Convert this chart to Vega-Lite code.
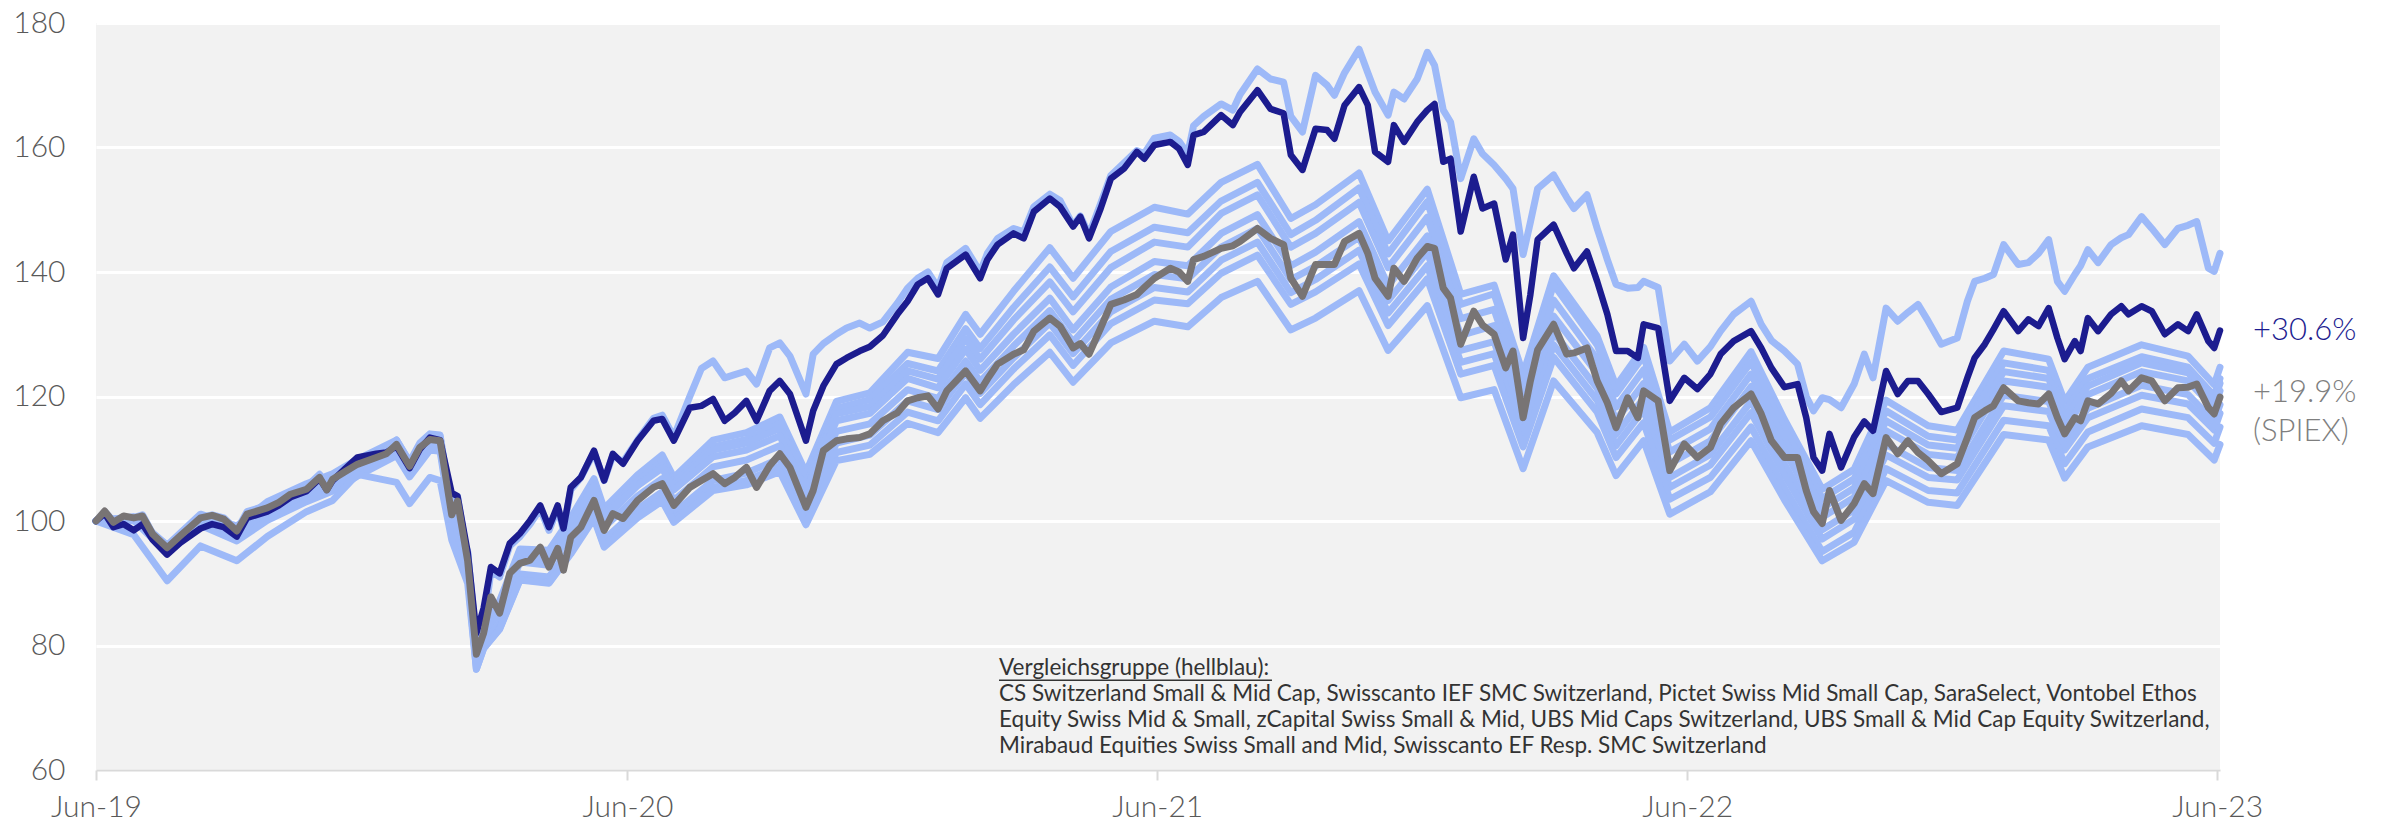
{
"$schema": "https://vega.github.io/schema/vega-lite/v6.json",
"width": 2124,
"height": 747,
"autosize": {"type": "none"},
"padding": {"left": 96, "top": 23, "right": 172, "bottom": 58},
"background": "white",
"datasets": {
"main": [
{"d":"2019-06-30","f":100,"s":100,"t":100},
{"d":"2019-07-06","f":101.2,"s":101.6,"t":101.5},
{"d":"2019-07-12","f":99,"s":99.8,"t":100},
{"d":"2019-07-19","f":99.5,"s":100.8,"t":100.5},
{"d":"2019-07-26","f":98.5,"s":100.5,"t":100.5},
{"d":"2019-08-01","f":99.5,"s":100.8,"t":101},
{"d":"2019-08-08","f":97,"s":97.9,"t":98},
{"d":"2019-08-18","f":94.6,"s":95.7,"t":96},
{"d":"2019-08-27","f":96.5,"s":97.6,"t":97.5},
{"d":"2019-09-10","f":98.8,"s":100.5,"t":100.5},
{"d":"2019-09-18","f":99.5,"s":100.9,"t":101},
{"d":"2019-09-26","f":99,"s":100.3,"t":100.5},
{"d":"2019-10-05","f":97.5,"s":98.4,"t":98.5},
{"d":"2019-10-12","f":100.5,"s":101.1,"t":101.5},
{"d":"2019-10-26","f":101.5,"s":102.1,"t":102.5},
{"d":"2019-11-03","f":102.5,"s":103,"t":103.5},
{"d":"2019-11-11","f":103.8,"s":104.3,"t":104.5},
{"d":"2019-11-22","f":104.8,"s":105.1,"t":105.5},
{"d":"2019-12-01","f":106.8,"s":107,"t":107.5},
{"d":"2019-12-06","f":105,"s":105,"t":105.5},
{"d":"2019-12-10","f":106.5,"s":106.7,"t":107},
{"d":"2019-12-19","f":108.5,"s":108,"t":108.5},
{"d":"2019-12-27","f":110.2,"s":109.1,"t":110},
{"d":"2020-01-09","f":110.8,"s":110.2,"t":111},
{"d":"2020-01-16","f":111,"s":110.8,"t":111.5},
{"d":"2020-01-23","f":112,"s":112.3,"t":113},
{"d":"2020-02-01","f":108.5,"s":108.8,"t":109.5},
{"d":"2020-02-08","f":111.5,"s":111.8,"t":112.5},
{"d":"2020-02-15","f":113.4,"s":113.1,"t":114},
{"d":"2020-02-22","f":113,"s":112.9,"t":113.8},
{"d":"2020-03-01","f":104.5,"s":101,"t":102},
{"d":"2020-03-05","f":104,"s":103.2,"t":104},
{"d":"2020-03-12","f":95,"s":93.6,"t":94},
{"d":"2020-03-18","f":82,"s":78.6,"t":79},
{"d":"2020-03-23","f":86,"s":82,"t":83},
{"d":"2020-03-28","f":92.6,"s":87.8,"t":92},
{"d":"2020-04-03","f":91.6,"s":85.2,"t":91},
{"d":"2020-04-10","f":96.4,"s":91.6,"t":96},
{"d":"2020-04-17","f":98,"s":93.2,"t":97.5},
{"d":"2020-04-24","f":100.1,"s":93.7,"t":99.5},
{"d":"2020-05-01","f":102.5,"s":95.8,"t":102},
{"d":"2020-05-07","f":99,"s":92.6,"t":98.5},
{"d":"2020-05-13","f":102.5,"s":95.6,"t":102},
{"d":"2020-05-17","f":98.8,"s":92.1,"t":98.5},
{"d":"2020-05-22","f":105.4,"s":97.4,"t":105},
{"d":"2020-05-29","f":107,"s":99,"t":107},
{"d":"2020-06-07","f":111.3,"s":103.3,"t":111},
{"d":"2020-06-14","f":106.5,"s":98.5,"t":106.5},
{"d":"2020-06-20","f":110.8,"s":101.2,"t":110.5},
{"d":"2020-06-27","f":109.2,"s":100.4,"t":109.5},
{"d":"2020-07-07","f":112.9,"s":103.3,"t":113},
{"d":"2020-07-18","f":116.1,"s":105.4,"t":116.5},
{"d":"2020-07-24","f":116.4,"s":106,"t":117},
{"d":"2020-08-01","f":112.9,"s":102.5,"t":113.5},
{"d":"2020-08-12","f":118.2,"s":105.4,"t":120},
{"d":"2020-08-20","f":118.5,"s":106.5,"t":124.5},
{"d":"2020-08-28","f":119.6,"s":107.6,"t":125.7},
{"d":"2020-09-05","f":116.1,"s":106,"t":123},
{"d":"2020-09-12","f":117.4,"s":107,"t":123.5},
{"d":"2020-09-20","f":119.3,"s":108.6,"t":124.1},
{"d":"2020-09-27","f":116.1,"s":105.4,"t":122},
{"d":"2020-10-06","f":120.9,"s":108.9,"t":127.8},
{"d":"2020-10-13","f":122.5,"s":110.8,"t":128.6},
{"d":"2020-10-20","f":120.4,"s":108.6,"t":126.5},
{"d":"2020-10-31","f":112.9,"s":102.2,"t":120.4},
{"d":"2020-11-05","f":117.7,"s":104.9,"t":126.8},
{"d":"2020-11-12","f":121.7,"s":111.3,"t":128.5},
{"d":"2020-11-21","f":125.2,"s":112.9,"t":130},
{"d":"2020-11-28","f":126.2,"s":113.2,"t":131},
{"d":"2020-12-07","f":127.3,"s":113.4,"t":131.8},
{"d":"2020-12-14","f":128,"s":114,"t":131},
{"d":"2020-12-23","f":129.8,"s":116.1,"t":132},
{"d":"2021-01-02","f":133.2,"s":117.4,"t":135},
{"d":"2021-01-09","f":135.3,"s":119.3,"t":137.4},
{"d":"2021-01-16","f":138,"s":119.8,"t":139},
{"d":"2021-01-23","f":139,"s":120.1,"t":140},
{"d":"2021-01-30","f":136.4,"s":118,"t":137.5},
{"d":"2021-02-05","f":140.6,"s":120.9,"t":141.5},
{"d":"2021-02-18","f":142.8,"s":124.1,"t":143.8},
{"d":"2021-02-28","f":139,"s":120.9,"t":140},
{"d":"2021-03-05","f":142,"s":122.8,"t":143},
{"d":"2021-03-12","f":144.4,"s":125.2,"t":145.4},
{"d":"2021-03-23","f":146.2,"s":126.8,"t":147},
{"d":"2021-03-30","f":145.4,"s":127.5,"t":146.4},
{"d":"2021-04-06","f":149.7,"s":130.5,"t":150.5},
{"d":"2021-04-17","f":151.8,"s":132.6,"t":152.5},
{"d":"2021-04-24","f":150.5,"s":131.3,"t":151.5},
{"d":"2021-05-03","f":147.3,"s":127.8,"t":147.5},
{"d":"2021-05-08","f":148.9,"s":128.5,"t":149},
{"d":"2021-05-14","f":145.4,"s":126.8,"t":146},
{"d":"2021-05-22","f":150.2,"s":131,"t":151},
{"d":"2021-05-29","f":155,"s":134.8,"t":155.5},
{"d":"2021-06-07","f":156.6,"s":135.5,"t":157.5},
{"d":"2021-06-16","f":159.3,"s":136.4,"t":159.5},
{"d":"2021-06-21","f":158.2,"s":137.5,"t":159},
{"d":"2021-06-28","f":160.4,"s":139,"t":161.5},
{"d":"2021-07-09","f":160.9,"s":140.6,"t":162},
{"d":"2021-07-15","f":159.8,"s":140,"t":161},
{"d":"2021-07-21","f":157.2,"s":138.5,"t":159},
{"d":"2021-07-25","f":162,"s":142,"t":163.5},
{"d":"2021-08-01","f":162.5,"s":142.5,"t":165},
{"d":"2021-08-13","f":165.2,"s":143.8,"t":167},
{"d":"2021-08-21","f":163.6,"s":144.2,"t":166},
{"d":"2021-08-26","f":165.7,"s":144.9,"t":168.5},
{"d":"2021-09-07","f":169.2,"s":147,"t":172.6},
{"d":"2021-09-16","f":166.2,"s":145.4,"t":171},
{"d":"2021-09-25","f":165.5,"s":144.4,"t":170.5},
{"d":"2021-09-30","f":158.8,"s":139,"t":165},
{"d":"2021-10-08","f":156.4,"s":136.1,"t":162.5},
{"d":"2021-10-17","f":163,"s":141.2,"t":171.6},
{"d":"2021-10-25","f":162.8,"s":141.2,"t":170},
{"d":"2021-10-30","f":161.4,"s":141.2,"t":168.4},
{"d":"2021-11-06","f":166.8,"s":144.9,"t":172},
{"d":"2021-11-16","f":169.7,"s":146.2,"t":175.8},
{"d":"2021-11-22","f":166.8,"s":143,"t":172},
{"d":"2021-11-27","f":159.3,"s":139,"t":168.9},
{"d":"2021-12-06","f":157.7,"s":136.1,"t":165.2},
{"d":"2021-12-10","f":163.6,"s":140.6,"t":168.9},
{"d":"2021-12-17","f":160.9,"s":138.5,"t":167.8},
{"d":"2021-12-26","f":164.1,"s":142.2,"t":171},
{"d":"2022-01-02","f":166,"s":144.1,"t":175.3},
{"d":"2022-01-07","f":167,"s":143.8,"t":173.2},
{"d":"2022-01-13","f":157.7,"s":137.4,"t":166},
{"d":"2022-01-18","f":158.2,"s":135.8,"t":164.1},
{"d":"2022-01-25","f":146.5,"s":128.4,"t":155},
{"d":"2022-02-03","f":155.3,"s":133.7,"t":161.4},
{"d":"2022-02-09","f":150.2,"s":131.5,"t":159},
{"d":"2022-02-17","f":151,"s":130,"t":157.2},
{"d":"2022-02-25","f":142,"s":124.6,"t":155},
{"d":"2022-03-02","f":146,"s":127.3,"t":153.4},
{"d":"2022-03-09","f":129.4,"s":116.6,"t":142.8},
{"d":"2022-03-14","f":136.4,"s":122.5,"t":148},
{"d":"2022-03-19","f":145.2,"s":127.5,"t":153.4},
{"d":"2022-03-30","f":147.6,"s":131.6,"t":155.6},
{"d":"2022-04-08","f":143,"s":126.8,"t":152},
{"d":"2022-04-13","f":140.6,"s":127,"t":150.2},
{"d":"2022-04-22","f":143.3,"s":127.8,"t":152.4},
{"d":"2022-04-29","f":138.5,"s":122.5,"t":147},
{"d":"2022-05-06","f":133.2,"s":119,"t":142},
{"d":"2022-05-12","f":127.3,"s":115,"t":138},
{"d":"2022-05-20","f":127.3,"s":119.8,"t":137.4},
{"d":"2022-05-27","f":126.2,"s":116.6,"t":137.5},
{"d":"2022-05-31","f":131.6,"s":120.9,"t":138.5},
{"d":"2022-06-10","f":131,"s":119.3,"t":137.5},
{"d":"2022-06-18","f":119.3,"s":108.1,"t":125.7},
{"d":"2022-06-28","f":123,"s":112.4,"t":128.4},
{"d":"2022-07-07","f":121.2,"s":110.2,"t":125.7},
{"d":"2022-07-16","f":123.6,"s":111.8,"t":128},
{"d":"2022-07-23","f":126.8,"s":115.6,"t":130.5},
{"d":"2022-08-01","f":128.9,"s":118.2,"t":133.2},
{"d":"2022-08-13","f":130.5,"s":120.4,"t":135.3},
{"d":"2022-08-20","f":127.8,"s":117.2,"t":131.6},
{"d":"2022-08-27","f":124.6,"s":112.9,"t":129},
{"d":"2022-09-05","f":121.5,"s":110.2,"t":127.3},
{"d":"2022-09-14","f":122,"s":110.2,"t":125.2},
{"d":"2022-09-20","f":116.6,"s":104.9,"t":120},
{"d":"2022-09-25","f":110.2,"s":101.5,"t":117.7},
{"d":"2022-10-01","f":108.1,"s":99.6,"t":119.8},
{"d":"2022-10-06","f":114,"s":104.9,"t":119.5},
{"d":"2022-10-14","f":108.6,"s":100.1,"t":118.2},
{"d":"2022-10-23","f":113.5,"s":102.8,"t":122},
{"d":"2022-10-30","f":116,"s":106,"t":126.8},
{"d":"2022-11-05","f":114.5,"s":104.4,"t":123},
{"d":"2022-11-14","f":124.1,"s":113.4,"t":134.2},
{"d":"2022-11-22","f":120.4,"s":110.8,"t":132.1},
{"d":"2022-11-29","f":122.5,"s":112.9,"t":133.5},
{"d":"2022-12-06","f":122.5,"s":111,"t":134.8},
{"d":"2022-12-13","f":120.4,"s":109.7,"t":132.1},
{"d":"2022-12-22","f":117.5,"s":107.6,"t":128.4},
{"d":"2023-01-02","f":118.2,"s":109.2,"t":129.4},
{"d":"2023-01-09","f":123,"s":113.4,"t":135.3},
{"d":"2023-01-14","f":126.2,"s":116.6,"t":138.5},
{"d":"2023-01-21","f":128.4,"s":117.7,"t":139},
{"d":"2023-01-27","f":130.8,"s":118.5,"t":139.6},
{"d":"2023-02-03","f":133.7,"s":121.4,"t":144.4},
{"d":"2023-02-13","f":130.5,"s":119.3,"t":141.2},
{"d":"2023-02-20","f":132.4,"s":119,"t":141.5},
{"d":"2023-02-27","f":131.3,"s":118.8,"t":143},
{"d":"2023-03-06","f":134.2,"s":120.4,"t":145.2},
{"d":"2023-03-12","f":129.4,"s":116.6,"t":138.5},
{"d":"2023-03-17","f":126,"s":114,"t":136.9},
{"d":"2023-03-24","f":128.9,"s":116.6,"t":139.6},
{"d":"2023-03-28","f":127.3,"s":116.1,"t":141},
{"d":"2023-04-02","f":132.6,"s":119.3,"t":143.6},
{"d":"2023-04-09","f":130.5,"s":118.8,"t":141.5},
{"d":"2023-04-18","f":133.2,"s":120.5,"t":144.4},
{"d":"2023-04-25","f":134.5,"s":122.5,"t":145.5},
{"d":"2023-04-30","f":133.2,"s":120.9,"t":146},
{"d":"2023-05-09","f":134.5,"s":123,"t":148.9},
{"d":"2023-05-16","f":133.7,"s":122.5,"t":147},
{"d":"2023-05-25","f":130,"s":119.3,"t":144.4},
{"d":"2023-06-03","f":131.6,"s":121.4,"t":147},
{"d":"2023-06-10","f":130.5,"s":121.5,"t":147.5},
{"d":"2023-06-16","f":133.2,"s":122,"t":148.1},
{"d":"2023-06-24","f":128.9,"s":118.2,"t":140.6},
{"d":"2023-06-28","f":127.8,"s":117.2,"t":140.1},
{"d":"2023-07-02","f":130.6,"s":119.9,"t":143}
],
"peers": [
{"d":"2019-06-30","p2":100,"p3":100,"p4":100,"p5":100,"p6":100,"p7":100,"p8":100,"b":100},
{"d":"2019-07-26","p2":100.7,"p3":100.6,"p4":100.5,"p5":100.6,"p6":100.4,"p7":100.3,"p8":100.1,"b":97.8},
{"d":"2019-08-18","p2":96.1,"p3":95.9,"p4":95.7,"p5":95.9,"p6":95.6,"p7":95.3,"p8":94.9,"b":90.4},
{"d":"2019-09-10","p2":101.1,"p3":100.8,"p4":100.5,"p5":100.7,"p6":100.3,"p7":99.9,"p8":99.3,"b":96},
{"d":"2019-10-05","p2":99.2,"p3":98.8,"p4":98.4,"p5":98.7,"p6":98.2,"p7":97.6,"p8":96.8,"b":93.6},
{"d":"2019-10-26","p2":103.1,"p3":102.6,"p4":102.1,"p5":102.5,"p6":101.8,"p7":101.1,"p8":100.1,"b":97.5},
{"d":"2019-11-22","p2":106,"p3":105.5,"p4":105.2,"p5":105.4,"p6":104.8,"p7":104,"p8":103.1,"b":101.5},
{"d":"2019-12-10","p2":107.6,"p3":107,"p4":106.9,"p5":107,"p6":106.3,"p7":105.6,"p8":104.8,"b":103.3},
{"d":"2019-12-27","p2":109.9,"p3":109.4,"p4":109.4,"p5":109.3,"p6":108.7,"p7":108,"p8":107.2,"b":107.5},
{"d":"2020-01-23","p2":113,"p3":112.5,"p4":112.7,"p5":112.4,"p6":111.8,"p7":111.2,"p8":110.5,"b":106.2},
{"d":"2020-02-01","p2":109.5,"p3":108.9,"p4":109.2,"p5":108.9,"p6":108.3,"p7":107.7,"p8":107.1,"b":102.8},
{"d":"2020-02-15","p2":113.7,"p3":113.1,"p4":113.6,"p5":113.1,"p6":112.5,"p7":112,"p8":111.4,"b":107},
{"d":"2020-02-22","p2":113.5,"p3":112.9,"p4":113.5,"p5":112.9,"p6":112.3,"p7":111.8,"p8":111.2,"b":106.5},
{"d":"2020-03-01","p2":101.9,"p3":101.2,"p4":101.4,"p5":101.5,"p6":100.6,"p7":99.8,"p8":99.2,"b":97},
{"d":"2020-03-12","p2":95.1,"p3":94.3,"p4":93.7,"p5":95,"p6":93.5,"p7":92,"p8":91.2,"b":90},
{"d":"2020-03-18","p2":80.2,"p3":79.4,"p4":78.6,"p5":80.2,"p6":78.6,"p7":77,"p8":76.2,"b":76.2},
{"d":"2020-03-23","p2":83.6,"p3":82.8,"p4":82.1,"p5":83.6,"p6":82,"p7":80.4,"p8":79.6,"b":79.5},
{"d":"2020-04-03","p2":87.2,"p3":86.3,"p4":85.5,"p5":86.9,"p6":85.3,"p7":83.6,"p8":82.7,"b":82.6},
{"d":"2020-04-17","p2":95.5,"p3":94.6,"p4":93.8,"p5":95.2,"p6":93.4,"p7":91.5,"p8":90.6,"b":90.5},
{"d":"2020-05-07","p2":95.3,"p3":94.4,"p4":93.6,"p5":94.6,"p6":92.9,"p7":91,"p8":90.1,"b":90},
{"d":"2020-05-22","p2":100.5,"p3":99.5,"p4":98.8,"p5":99.5,"p6":97.8,"p7":95.8,"p8":94.9,"b":94.7},
{"d":"2020-06-07","p2":106.8,"p3":105.8,"p4":105.1,"p5":105.6,"p6":103.8,"p7":101.7,"p8":100.7,"b":100.4},
{"d":"2020-06-14","p2":102,"p3":101.1,"p4":100.3,"p5":100.8,"p6":99,"p7":97,"p8":96,"b":95.8},
{"d":"2020-07-07","p2":107.4,"p3":106.4,"p4":105.7,"p5":105.7,"p6":104,"p7":101.9,"p8":100.9,"b":100.5},
{"d":"2020-07-24","p2":110.6,"p3":109.5,"p4":108.9,"p5":108.5,"p6":106.8,"p7":104.7,"p8":103.6,"b":103.2},
{"d":"2020-08-01","p2":107,"p3":106,"p4":105.4,"p5":105,"p6":103.3,"p7":101.3,"p8":100.2,"b":99.8},
{"d":"2020-08-28","p2":113,"p3":111.9,"p4":111.4,"p5":110.3,"p6":108.7,"p7":106.5,"p8":105.4,"b":104.9},
{"d":"2020-09-20","p2":114.2,"p3":113.1,"p4":112.5,"p5":111.4,"p6":109.8,"p7":107.7,"p8":106.5,"b":105.8},
{"d":"2020-10-13","p2":116.7,"p3":115.6,"p4":114.9,"p5":113.7,"p6":112.1,"p7":110,"p8":108.8,"b":107.9},
{"d":"2020-10-31","p2":107.8,"p3":106.7,"p4":106,"p5":105,"p6":103.4,"p7":101.6,"p8":100.4,"b":99.4},
{"d":"2020-11-21","p2":119.2,"p3":118.1,"p4":117.2,"p5":116.1,"p6":114.4,"p7":112.5,"p8":111,"b":109.7},
{"d":"2020-12-14","p2":120.6,"p3":119.5,"p4":118.4,"p5":117.3,"p6":115.6,"p7":113.8,"p8":112.2,"b":110.7},
{"d":"2021-01-09","p2":127.1,"p3":125.3,"p4":124.1,"p5":122.9,"p6":121.1,"p7":119.3,"p8":117.5,"b":115.7},
{"d":"2021-01-30","p2":126.1,"p3":124.1,"p4":122.8,"p5":121.4,"p6":119.7,"p7":117.9,"p8":116.1,"b":114.2},
{"d":"2021-02-18","p2":133.2,"p3":130.9,"p4":129.3,"p5":127.6,"p6":125.7,"p7":123.8,"p8":122,"b":119.8},
{"d":"2021-02-28","p2":130,"p3":127.7,"p4":126,"p5":124.2,"p6":122.4,"p7":120.5,"p8":118.7,"b":116.5},
{"d":"2021-03-23","p2":136.9,"p3":134.3,"p4":132.3,"p5":130,"p6":128.1,"p7":126.2,"p8":124.4,"b":121.9},
{"d":"2021-04-17","p2":143.9,"p3":140.8,"p4":138.4,"p5":135.8,"p6":133.8,"p7":131.8,"p8":129.9,"b":127.1},
{"d":"2021-05-03","p2":139,"p3":136,"p4":133.6,"p5":130.7,"p6":128.8,"p7":126.9,"p8":125,"b":122.3},
{"d":"2021-05-29","p2":146.5,"p3":143.3,"p4":140.7,"p5":137.6,"p6":135.6,"p7":133.6,"p8":131.7,"b":128.6},
{"d":"2021-06-28","p2":150.4,"p3":147.2,"p4":144.8,"p5":141.7,"p6":139.6,"p7":137.5,"p8":135.5,"b":132.1},
{"d":"2021-07-21","p2":149.3,"p3":146.3,"p4":144,"p5":141,"p6":138.9,"p7":136.8,"p8":134.9,"b":131.2},
{"d":"2021-08-13","p2":154.4,"p3":151.4,"p4":149.4,"p5":146.2,"p6":144,"p7":141.9,"p8":139.8,"b":135.9},
{"d":"2021-09-07","p2":157.3,"p3":154.4,"p4":152.4,"p5":149.2,"p6":147,"p7":144.8,"p8":142.7,"b":138.5},
{"d":"2021-09-30","p2":148.6,"p3":146,"p4":144,"p5":141,"p6":138.8,"p7":136.7,"p8":134.8,"b":130.7},
{"d":"2021-10-17","p2":150.8,"p3":148.3,"p4":146.2,"p5":143.2,"p6":140.9,"p7":138.8,"p8":136.8,"b":132.6},
{"d":"2021-11-16","p2":155.9,"p3":153.5,"p4":151.2,"p5":148.1,"p6":145.6,"p7":143.5,"p8":141.3,"b":137},
{"d":"2021-12-06","p2":145,"p3":142.9,"p4":140.7,"p5":137.8,"p6":135.4,"p7":133.4,"p8":131.4,"b":127.4},
{"d":"2022-01-02","p2":153.3,"p3":151.3,"p4":148.8,"p5":145.8,"p6":143.2,"p7":141,"p8":138.9,"b":134.6},
{"d":"2022-01-25","p2":136.4,"p3":134.8,"p4":132.5,"p5":129.8,"p6":127.4,"p7":125.5,"p8":123.6,"b":119.8},
{"d":"2022-02-17","p2":137.9,"p3":136.5,"p4":134,"p5":131.4,"p6":128.8,"p7":126.9,"p8":125,"b":121.1},
{"d":"2022-03-09","p2":123.6,"p3":122.4,"p4":120.1,"p5":117.8,"p6":115.4,"p7":113.7,"p8":111.9,"b":108.4},
{"d":"2022-03-30","p2":139.4,"p3":138,"p4":135.5,"p5":132.9,"p6":130.3,"p7":128.3,"p8":126.3,"b":122.5},
{"d":"2022-04-29","p2":129.7,"p3":128.3,"p4":126,"p5":123.7,"p6":121.3,"p7":119.4,"p8":117.5,"b":114.2},
{"d":"2022-05-12","p2":121.7,"p3":120.4,"p4":118.3,"p5":116.2,"p6":113.9,"p7":112.1,"p8":110.2,"b":107.3},
{"d":"2022-05-31","p2":127.9,"p3":126.5,"p4":124.3,"p5":122.1,"p6":119.7,"p7":117.9,"p8":115.8,"b":112.9},
{"d":"2022-06-18","p2":114.3,"p3":113,"p4":111.1,"p5":109.2,"p6":107,"p7":105.4,"p8":103.5,"b":101.1},
{"d":"2022-07-16","p2":118.2,"p3":116.7,"p4":114.8,"p5":112.9,"p6":110.7,"p7":109,"p8":107,"b":104.7},
{"d":"2022-08-13","p2":127.2,"p3":125.5,"p4":123.6,"p5":121.6,"p6":119.2,"p7":117.4,"p8":115.1,"b":112.9},
{"d":"2022-09-05","p2":116.3,"p3":114.8,"p4":113,"p5":111.3,"p6":109.1,"p7":107.4,"p8":105.3,"b":103.4},
{"d":"2022-10-01","p2":105.1,"p3":103.6,"p4":102.1,"p5":100.6,"p6":98.6,"p7":97.1,"p8":95.1,"b":93.6},
{"d":"2022-10-23","p2":108.3,"p3":106.8,"p4":105.3,"p5":103.8,"p6":101.8,"p7":100.3,"p8":98.2,"b":96.6},
{"d":"2022-11-14","p2":119.4,"p3":117.7,"p4":116.1,"p5":114.5,"p6":112.3,"p7":110.6,"p8":108.4,"b":106.5},
{"d":"2022-12-13","p2":115.3,"p3":113.6,"p4":112.2,"p5":110.7,"p6":108.6,"p7":107,"p8":104.9,"b":103},
{"d":"2023-01-02","p2":114.6,"p3":113,"p4":111.7,"p5":110.2,"p6":108.1,"p7":106.6,"p8":104.5,"b":102.5},
{"d":"2023-02-03","p2":127.3,"p3":125.4,"p4":124,"p5":122.5,"p6":120.2,"p7":118.5,"p8":116.2,"b":113.9},
{"d":"2023-03-06","p2":126,"p3":124.2,"p4":122.9,"p5":121.5,"p6":119.2,"p7":117.6,"p8":115.3,"b":113},
{"d":"2023-03-17","p2":119.2,"p3":117.5,"p4":116.4,"p5":115,"p6":112.9,"p7":111.4,"p8":109.2,"b":106.9},
{"d":"2023-04-02","p2":124.7,"p3":122.9,"p4":121.7,"p5":120.3,"p6":118.1,"p7":116.6,"p8":114.3,"b":111.9},
{"d":"2023-05-09","p2":128.3,"p3":126.4,"p4":125.4,"p5":124,"p6":121.8,"p7":120.2,"p8":118,"b":115.3},
{"d":"2023-06-10","p2":126.5,"p3":124.7,"p4":123.8,"p5":122.5,"p6":120.3,"p7":118.8,"p8":116.6,"b":113.9},
{"d":"2023-06-28","p2":121.9,"p3":120.1,"p4":119.3,"p5":118.1,"p6":116,"p7":114.6,"p8":112.5,"b":109.8},
{"d":"2023-07-02","p2":124.7,"p3":122.9,"p4":122.1,"p5":120.9,"p6":118.7,"p7":117.3,"p8":115.1,"b":112.3}
],
"one": [{}]
},
"layer": [
{
"data": {"name": "peers"},
"transform": [{"fold": ["p2","p3","p4","p5","p6","p7","p8","b"], "as": ["k","v"]}],
"mark": {"type": "line", "color": "#9db9f8", "strokeWidth": 7, "strokeJoin": "round", "strokeCap": "round"},
"encoding": {
"x": {"field": "d", "type": "temporal", "title": null,
"scale": {"type": "utc", "domain": [{"year":2019,"month":"jun","date":30,"utc":true},{"year":2023,"month":"jul","date":2,"utc":true}], "nice": false},
"axis": {"values": [{"year":2019,"month":"jun","date":30,"utc":true},{"year":2020,"month":"jun","date":30,"utc":true},{"year":2021,"month":"jun","date":30,"utc":true},{"year":2022,"month":"jun","date":30,"utc":true},{"year":2023,"month":"jun","date":30,"utc":true}], "format": "%b-%y"}},
"y": {"field": "v", "type": "quantitative", "title": null,
"scale": {"domain": [60, 180], "nice": false, "zero": false},
"axis": {"values": [60, 80, 100, 120, 140, 160, 180]}},
"detail": {"field": "k"}
}
},
{
"data": {"name": "main"},
"mark": {"type": "line", "color": "#9db9f8", "strokeWidth": 7, "strokeJoin": "round", "strokeCap": "round"},
"encoding": {
"x": {"field": "d", "type": "temporal", "title": null},
"y": {"field": "t", "type": "quantitative", "title": null}
}
},
{
"data": {"name": "main"},
"mark": {"type": "line", "color": "#1c1c8f", "strokeWidth": 6.5, "strokeJoin": "round", "strokeCap": "round"},
"encoding": {
"x": {"field": "d", "type": "temporal", "title": null},
"y": {"field": "f", "type": "quantitative", "title": null}
}
},
{
"data": {"name": "main"},
"mark": {"type": "line", "color": "#787474", "strokeWidth": 7, "strokeJoin": "round", "strokeCap": "round"},
"encoding": {
"x": {"field": "d", "type": "temporal", "title": null},
"y": {"field": "s", "type": "quantitative", "title": null}
}
},
{
"data": {"name": "one"},
"mark": {"type": "text", "text": "+30.6%", "align": "left", "baseline": "middle", "dx": 33, "fontSize": 31, "font": "Lato", "fontWeight": 300, "color": "#1c1c8f"},
"encoding": {
"x": {"datum": {"year":2023,"month":"jul","date":2,"utc":true}, "type": "temporal", "title": null},
"y": {"datum": 130.6, "type": "quantitative", "title": null}
}
},
{
"data": {"name": "one"},
"mark": {"type": "text", "text": ["+19.9%", "(SPIEX)"], "align": "left", "baseline": "middle", "dx": 33, "dy": -4, "lineHeight": 39, "fontSize": 31, "font": "Lato", "fontWeight": 300, "color": "#7f7f7f"},
"encoding": {
"x": {"datum": {"year":2023,"month":"jul","date":2,"utc":true}, "type": "temporal", "title": null},
"y": {"datum": 119.9, "type": "quantitative", "title": null}
}
},
{
"data": {"name": "one"},
"mark": {"type": "text", "text": ["Vergleichsgruppe (hellblau):", "CS Switzerland Small & Mid Cap, Swisscanto IEF SMC Switzerland, Pictet Swiss Mid Small Cap, SaraSelect, Vontobel Ethos", "Equity Swiss Mid & Small, zCapital Swiss Small & Mid, UBS Mid Caps Switzerland, UBS Small & Mid Cap Equity Switzerland,", "Mirabaud Equities Swiss Small and Mid, Swisscanto EF Resp. SMC Switzerland"], "align": "left", "baseline": "middle", "lineHeight": 26, "fontSize": 22.5, "font": "Lato", "color": "#333333"},
"encoding": {
"x": {"datum": {"year":2021,"month":"mar","date":13,"utc":true}, "type": "temporal", "title": null},
"y": {"datum": 76.4, "type": "quantitative", "title": null}
}
},
{
"data": {"name": "one"},
"mark": {"type": "rule", "color": "#333333", "strokeWidth": 1.5},
"encoding": {
"x": {"datum": {"year":2021,"month":"mar","date":13,"utc":true}, "type": "temporal", "title": null},
"x2": {"datum": {"year":2021,"month":"sep","date":17,"utc":true}},
"y": {"datum": 74.4, "type": "quantitative", "title": null}
}
}
],
"config": {
"view": {"fill": "#f2f2f2", "stroke": null},
"axis": {"labelFont": "Lato", "labelFontWeight": 300, "labelFontSize": 30, "labelColor": "#595959"},
"axisX": {"domainColor": "#d9d9d9", "domainWidth": 2, "tickColor": "#d9d9d9", "tickSize": 10, "tickWidth": 2, "grid": false, "labelPadding": 12, "labelAngle": 0, "labelOverlap": false, "labelFlush": false},
"axisY": {"domain": false, "ticks": false, "tickSize": 0, "grid": true, "gridColor": "#ffffff", "gridWidth": 3, "gridOpacity": 1, "labelPadding": 31, "labelOverlap": false}
}
}
